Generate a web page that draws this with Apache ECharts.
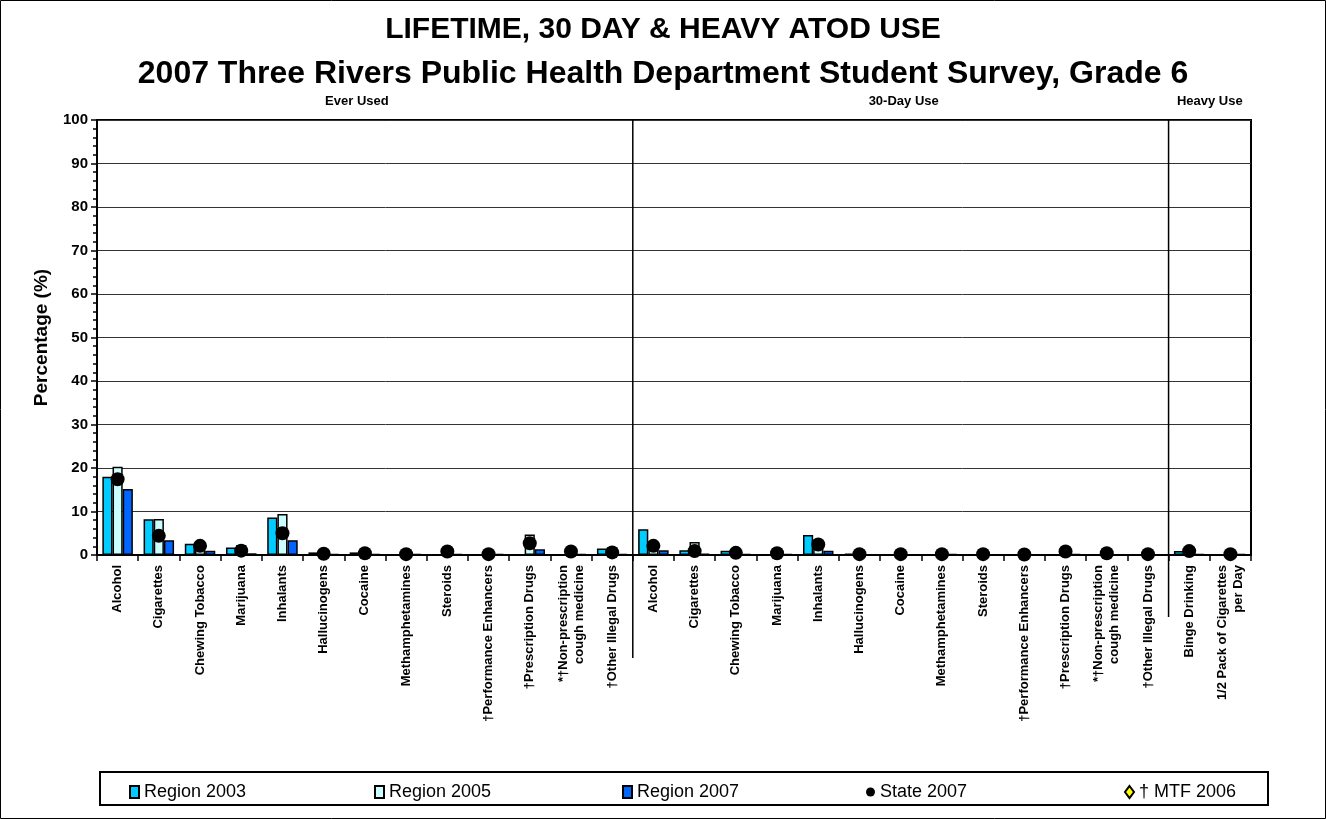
<!DOCTYPE html>
<html>
<head>
<meta charset="utf-8">
<script src="https://cdn.jsdelivr.net/npm/echarts@6/dist/echarts.min.js"></script>
<style>
html, body { margin: 0; padding: 0; background: #fff; }
#atodUse { width: 1326px; height: 819px; }
</style>
</head>
<body>
<div id="atodUse"></div>
<script>
// categories: 13 "Ever Used", 13 "30-Day Use", 2 "Heavy Use"
var categories = [
  "Alcohol", "Cigarettes", "Chewing Tobacco", "Marijuana", "Inhalants", "Hallucinogens",
  "Cocaine", "Methamphetamines", "Steroids", "†Performance Enhancers", "†Prescription Drugs",
  "*†Non-prescription\ncough medicine", "†Other Illegal Drugs",
  "Alcohol", "Cigarettes", "Chewing Tobacco", "Marijuana", "Inhalants", "Hallucinogens",
  "Cocaine", "Methamphetamines", "Steroids", "†Performance Enhancers", "†Prescription Drugs",
  "*†Non-prescription\ncough medicine", "†Other Illegal Drugs",
  "Binge Drinking", "1/2 Pack of Cigarettes\nper Day"
];
var sectionNames = ["Ever Used", "30-Day Use", "Heavy Use"];
var sectionStarts = [0, 13, 26];

var region2003 = [18.0, 8.2, 2.6, 1.7, 8.6, 0.6, 0.6, 0.1, 0.1, 0, 0, 0, 1.5,
                  5.9, 1.1, 1.0, 0, 4.6, 0.3, 0, 0.1, 0, 0, 0, 0, 0,
                  0.9, 0];
var region2005 = [20.3, 8.3, 2.4, 2.3, 9.4, 0.2, 0.2, 0.1, 0.1, 0.1, 4.7, 0, 1.8,
                  1.8, 3.0, 0.4, 0, 2.6, 0.1, 0, 0.1, 0, 0, 0.1, 0, 0,
                  0.5, 0];
var region2007 = [15.2, 3.4, 1.0, 0.4, 3.4, 0.2, 0.2, 0.2, 0.2, 0.2, 1.3, 0.2, 0.2,
                  1.1, 0.3, 0.2, 0.2, 1.0, 0.1, 0.1, 0.2, 0.1, 0.1, 0.2, 0.1, 0.1,
                  0.2, 0.2];
var state2007 = [17.4, 4.4, 2.1, 1.0, 5.0, 0.3, 0.4, 0.2, 0.8, 0.2, 2.7, 0.8, 0.6,
                 2.1, 0.9, 0.5, 0.4, 2.4, 0.2, 0.2, 0.2, 0.2, 0.1, 0.8, 0.4, 0.2,
                 0.9, 0.2];
var mtf2006 = [null, null, null, null, null, null, null, null, null, null, null, null, null,
               null, null, null, null, null, null, null, null, null, null, null, null, null,
               null, null];

var legendNames = ["Region 2003", "Region 2005", "Region 2007", "State 2007", "† MTF 2006"];
var legendIcons = ["rect", "rect", "rect", "circle", "diamond"];
var legendLeft = [124, 369, 617, 861, 1119];

var font = "Liberation Sans, Arial, sans-serif";
var myChart = echarts.init(document.getElementById("atodUse"));

var barStyle = function(c) {
  return { color: c, borderColor: "#000", borderWidth: 1.5 };
};

// one legend box per entry so they spread across the frame like the original
var legends = legendNames.map(function(n, i) {
  return {
    left: legendLeft[i], top: 778,
    itemWidth: 9, itemHeight: 12,
    textStyle: { fontFamily: font, fontSize: 18, color: "#000" },
    data: [{ name: n, icon: legendIcons[i] }]
  };
});

var option = {
  animation: false,
  backgroundColor: "#fff",
  textStyle: { fontFamily: font },
  title: [
    {
      text: "LIFETIME, 30 DAY & HEAVY ATOD USE",
      left: "center", top: 10,
      textStyle: { fontFamily: font, fontWeight: "bold", fontSize: 30, color: "#000" }
    },
    {
      text: "2007 Three Rivers Public Health Department Student Survey, Grade 6",
      left: "center", top: 53,
      textStyle: { fontFamily: font, fontWeight: "bold", fontSize: 32, color: "#000" }
    }
  ],
  legend: legends,
  grid: {
    left: 97, right: 75, top: 120, bottom: 264,
    show: true, borderColor: "#000", borderWidth: 2
  },
  xAxis: {
    type: "category",
    data: categories,
    axisLine: { lineStyle: { color: "#000", width: 2 } },
    axisTick: { show: true, length: 6, lineStyle: { color: "#000", width: 1.5 } },
    axisLabel: {
      interval: 0, rotate: 90, margin: 10,
      fontFamily: font, fontWeight: "bold", fontSize: 13, color: "#000", lineHeight: 16
    }
  },
  yAxis: {
    type: "value",
    min: 0, max: 100, interval: 10,
    name: "Percentage (%)",
    nameLocation: "middle", nameGap: 46,
    nameTextStyle: { fontFamily: font, fontWeight: "bold", fontSize: 19, color: "#000" },
    axisLine: { show: true, lineStyle: { color: "#000", width: 2 } },
    axisTick: { show: true, length: 6, lineStyle: { color: "#000", width: 1.5 } },
    minorTick: { show: true, splitNumber: 5, length: 4, lineStyle: { color: "#000", width: 1.5 } },
    axisLabel: { fontFamily: font, fontWeight: "bold", fontSize: 15, color: "#000", margin: 9 },
    splitLine: { show: true, lineStyle: { color: "#333", width: 1 } }
  },
  series: [
    { name: "Region 2003", type: "bar", data: region2003, barGap: "0%", barCategoryGap: "26%", itemStyle: barStyle("#00CCFF") },
    { name: "Region 2005", type: "bar", data: region2005, itemStyle: barStyle("#CCFFFF") },
    { name: "Region 2007", type: "bar", data: region2007, itemStyle: barStyle("#0066FF") },
    {
      name: "State 2007", type: "scatter", data: state2007, z: 5,
      symbol: "circle", symbolSize: 14,
      itemStyle: { color: "#000", opacity: 1 }
    },
    {
      name: "† MTF 2006", type: "scatter", data: mtf2006, z: 6,
      symbol: "diamond", symbolSize: 12,
      itemStyle: { color: "#FFFF00", borderColor: "#000", borderWidth: 1, opacity: 1 }
    }
  ]
};

myChart.setOption(option);

// section dividers, section headings, legend frame and outer frame
var xAt = function(i) { return myChart.convertToPixel({ xAxisIndex: 0 }, i); };
var band = xAt(1) - xAt(0);
var edge = function(i) { return xAt(0) + (i - 0.5) * band; };
var yTop = myChart.convertToPixel({ yAxisIndex: 0 }, 100);
var yBottom = myChart.convertToPixel({ yAxisIndex: 0 }, 0);
var headShift = [-8, 3, 0];
var graphics = [
  { type: "rect", shape: { x: 0.5, y: 0.5, width: 1325, height: 818 }, style: { fill: null, stroke: "#000", lineWidth: 1 } },
  { type: "rect", shape: { x: 100, y: 772, width: 1168, height: 33 }, style: { fill: null, stroke: "#000", lineWidth: 2 } },
  { type: "line", shape: { x1: edge(13), y1: yTop, x2: edge(13), y2: yBottom + 103 }, style: { stroke: "#000", lineWidth: 1.5 } },
  { type: "line", shape: { x1: edge(26), y1: yTop, x2: edge(26), y2: yBottom + 62 }, style: { stroke: "#000", lineWidth: 1.5 } }
];
for (var s = 0; s < sectionNames.length; s++) {
  var a = sectionStarts[s];
  var b = s + 1 < sectionStarts.length ? sectionStarts[s + 1] : categories.length;
  graphics.push({
    type: "text",
    x: (edge(a) + edge(b)) / 2 + headShift[s], y: yTop - 19,
    style: {
      text: sectionNames[s], fill: "#000",
      font: "bold 13px " + font, textAlign: "center", textVerticalAlign: "middle"
    }
  });
}
myChart.setOption({ graphic: graphics });
</script>
</body>
</html>
